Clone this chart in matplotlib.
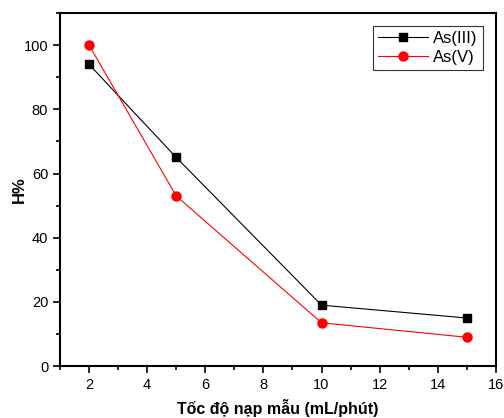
import numpy as np
import matplotlib
matplotlib.use("Agg")
import matplotlib.pyplot as plt
from matplotlib.ticker import MultipleLocator

plt.rcParams['font.family'] = ['Liberation Sans', 'DejaVu Sans']

# data
rate = [2, 5, 10, 15]
as3 = [94, 65, 19, 15]
as5 = [100, 53, 13.5, 9]

fig = plt.figure(figsize=(5.04, 4.18), dpi=100)
ax = fig.add_axes([0.119, 0.124, 0.865, 0.845])

ax.plot(rate, as3, color='black', lw=0.8, marker='s', ms=6, label='As(III)')
ax.plot(rate, as5, color='red', lw=0.8, marker='o', ms=6.5, label='As(V)')

ax.set_xlim(1, 16)
ax.set_ylim(0, 110)
ax.xaxis.set_major_locator(MultipleLocator(2))
ax.xaxis.set_minor_locator(MultipleLocator(1))
ax.yaxis.set_major_locator(MultipleLocator(20))
ax.yaxis.set_minor_locator(MultipleLocator(10))
ax.tick_params(which='both', direction='out', top=False, right=False,
               labelsize=10.5, width=1.2)
ax.tick_params(which='major', length=5)
ax.tick_params(which='minor', length=3)
for s in ax.spines.values():
    s.set_linewidth(1.5)

ax.set_xlabel('Tốc độ nạp mẫu (mL/phút)', fontsize=11.5, fontweight='bold', labelpad=5)
ax.set_ylabel('H%', fontsize=12, fontweight='bold')
ax.yaxis.set_label_coords(-0.075, 0.5)

leg = ax.legend(loc='upper right', fontsize=12, fancybox=False, framealpha=1,
                edgecolor='#333333', handlelength=3.0, borderpad=0.3,
                labelspacing=0.2, handletextpad=0.3, borderaxespad=0.8)
leg.get_frame().set_linewidth(0.8)

fig.savefig('out.png', dpi=100)
